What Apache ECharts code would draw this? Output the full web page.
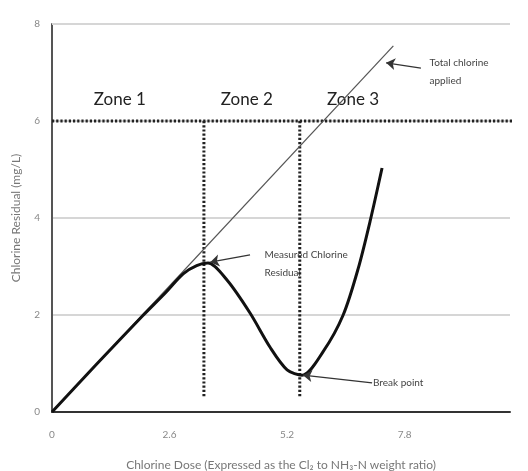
<!DOCTYPE html>
<html>
<head>
<meta charset="utf-8">
<script src="https://cdn.jsdelivr.net/npm/echarts@6/dist/echarts.min.js"></script>
<style>
  html, body { margin: 0; padding: 0; background: #fff; }
  #chart { width: 528px; height: 471px; }
</style>
</head>
<body>
<div id="chart"></div>
<script>
// Breakpoint chlorination curve
const xTicks = [0, 2.6, 5.2, 7.8];
const yTicks = [0, 2, 4, 6, 8];
const xMax = 10.13;

// Measured chlorine residual vs. dose (x, y)
const residualX = [0, 1.0, 2.0, 2.5, 2.9, 3.2, 3.45, 3.87, 4.38, 4.82, 5.2, 5.53, 6.0, 6.44, 6.77, 7.04, 7.3];
const residualY = [0, 1.0, 1.98, 2.45, 2.85, 3.02, 3.07, 2.72, 2.04, 1.34, 0.87, 0.76, 1.25, 2.0, 2.95, 3.95, 5.03];

// Total chlorine applied (1:1 line)
const appliedX = [0, 7.55];
const appliedY = [0, 7.55];

// Zone boundaries
const zoneLevel = 6;
const zoneBoundaries = [3.36, 5.48];
const boundaryBottom = 0.29;
const zoneNames = ['Zone 1', 'Zone 2', 'Zone 3'];
const zoneLabelX = [1.5, 4.31, 6.66];
const zoneLabelY = 6.45;

// Callouts: [text, textX, textY, arrowFromX, arrowFromY, arrowToX, arrowToY]
const callouts = [
  ['Total chlorine\napplied', 8.35, 7.01, 8.16, 7.09, 7.39, 7.2],
  ['Measured Chlorine\nResidual', 4.7, 3.05, 4.38, 3.24, 3.5, 3.09],
  ['Break point', 7.1, 0.6, 7.08, 0.6, 5.55, 0.76]
];

const zip = (xs, ys) => xs.map((x, i) => [x, ys[i]]);

const chart = echarts.init(document.getElementById('chart'));
const font = 'Lato, "Open Sans", sans-serif';
const dotted = { color: '#222', width: 3, type: [2.2, 2] };
const gridColor = '#d6d6d6';

const option = {
  animation: false,
  backgroundColor: '#fff',
  grid: { left: 52, right: 18, top: 24, bottom: 59, outerBoundsMode: 'none', containLabel: false },
  xAxis: {
    type: 'value',
    min: 0, max: xMax, interval: 2.6,
    name: 'Chlorine Dose (Expressed as the Cl\u2082 to NH\u2083-N weight ratio)',
    nameLocation: 'middle', nameGap: 47,
    nameTextStyle: { color: '#777', fontSize: 12, fontFamily: font },
    axisLine: { lineStyle: { color: '#333', width: 2 } },
    axisTick: { show: false },
    splitLine: { show: false },
    axisLabel: {
      color: '#888', fontSize: 10, fontFamily: font, margin: 18,
      showMaxLabel: false,
      formatter: v => (xTicks.some(t => Math.abs(t - v) < 1e-6) ? String(v) : '')
    }
  },
  yAxis: {
    type: 'value',
    min: 0, max: 8, interval: 2,
    name: 'Chlorine Residual (mg/L)',
    nameLocation: 'middle', nameGap: 30,
    nameTextStyle: { color: '#777', fontSize: 12, fontFamily: font },
    axisLine: { show: true, lineStyle: { color: '#555', width: 2 } },
    axisTick: { show: false },
    splitLine: {
      show: true, showMinLine: false, showMaxLine: true,
      lineStyle: { color: gridColor, width: 2, type: 'solid', opacity: 1 }
    },
    axisLabel: {
      color: '#888', fontSize: 10, fontFamily: font, margin: 12,
      formatter: v => (yTicks.includes(v) ? String(v) : '')
    }
  },
  series: [
    {
      // top gridline at the last y tick
      name: 'Top gridline',
      type: 'line',
      data: [],
      markLine: {
        silent: true,
        symbol: 'none',
        label: { show: false },
        lineStyle: { color: gridColor, width: 2, type: 'solid' },
        data: [{ yAxis: yTicks[yTicks.length - 1] }]
      },
      z: 1
    },
    {
      name: 'Total chlorine applied',
      type: 'line',
      data: zip(appliedX, appliedY),
      symbol: 'none',
      lineStyle: { color: '#555', width: 1.2 },
      z: 3
    },
    {
      name: 'Measured Chlorine Residual',
      type: 'line',
      data: zip(residualX, residualY),
      symbol: 'none',
      smooth: 0.3,
      lineStyle: { color: '#111', width: 3 },
      z: 4
    },
    {
      name: 'Zone level',
      type: 'line',
      data: [[0, zoneLevel], [10.55, zoneLevel]],
      clip: false,
      symbol: 'none',
      lineStyle: dotted,
      z: 2
    },
    ...zoneBoundaries.map(bx => ({
      name: 'Zone boundary',
      type: 'line',
      data: [[bx, zoneLevel], [bx, boundaryBottom]],
      symbol: 'none',
      lineStyle: dotted,
      z: 2
    })),
    {
      name: 'Callout arrows',
      type: 'line',
      data: [],
      markLine: {
        silent: true,
        symbol: ['none', 'arrow'],
        symbolSize: 9,
        label: { show: false },
        lineStyle: { color: '#333', width: 1.2, type: 'solid' },
        data: callouts.map(c => [{ coord: [c[3], c[4]] }, { coord: [c[5], c[6]] }])
      },
      z: 5
    }
  ]
};

chart.setOption(option);

// Text annotations anchored to data coordinates
const graphics = [];
zoneNames.forEach((name, i) => {
  const p = chart.convertToPixel({ gridIndex: 0 }, [zoneLabelX[i], zoneLabelY]);
  graphics.push({
    type: 'text', x: p[0], y: p[1],
    style: {
      text: name, fill: '#222', font: '17px ' + font,
      align: 'center', verticalAlign: 'middle'
    }
  });
});
callouts.forEach(c => {
  const p = chart.convertToPixel({ gridIndex: 0 }, [c[1], c[2]]);
  graphics.push({
    type: 'text', x: p[0], y: p[1],
    style: {
      text: c[0], fill: '#444', font: '10px ' + font, lineHeight: 18,
      align: 'left', verticalAlign: 'middle'
    }
  });
});
chart.setOption({ graphic: graphics });
</script>
</body>
</html>
